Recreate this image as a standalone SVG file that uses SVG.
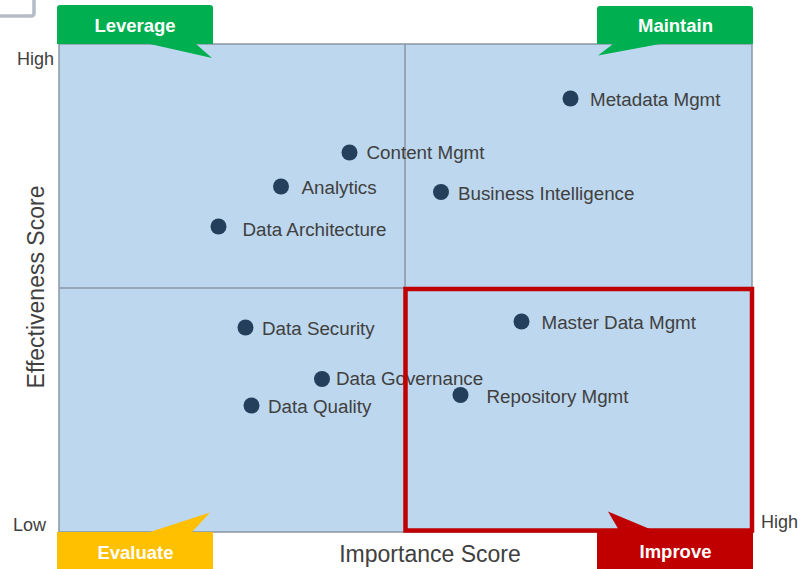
<svg xmlns="http://www.w3.org/2000/svg" width="800" height="569" viewBox="0 0 800 569">
<style>
.lbl{font-family:"Liberation Sans",Arial,sans-serif;font-size:18.8px;fill:#404040}
.ax{font-family:"Liberation Sans",Arial,sans-serif;font-size:18px;fill:#404040}
.title{font-family:"Liberation Sans",Arial,sans-serif;font-size:23px;fill:#404040}
.co{font-family:"Liberation Sans",Arial,sans-serif;font-size:18.5px;font-weight:bold;fill:#ffffff;text-anchor:middle}
.pt{fill:#243f5c}
.div{stroke:#8a96a3;stroke-width:1.5;fill:none}
</style>
<rect width="800" height="569" fill="#ffffff"/>
<path d="M0 16 H31 Q34 16 34 13 V0" fill="none" stroke="#b4bcc7" stroke-width="3.5"/>
<g id="plot">
<rect x="59" y="44" width="693" height="488" fill="#bdd7ee" stroke="#8a96a3" stroke-width="1.5"/>
<line class="div" x1="405" y1="44" x2="405" y2="532"/>
<line class="div" x1="59" y1="288" x2="752" y2="288"/>
</g>
<g id="axes">
<text class="ax" x="17" y="65">High</text>
<text class="ax" x="13" y="531">Low</text>
<text class="ax" x="761" y="528">High</text>
<text class="title" x="430" y="562" text-anchor="middle">Importance Score</text>
<text class="title" transform="translate(43.5,287) rotate(-90)" text-anchor="middle">Effectiveness Score</text>
</g>
<g id="n-metadata"><circle class="pt" cx="570.5" cy="98.5" r="8"/><text class="lbl" x="590" y="105.5">Metadata Mgmt</text></g>
<g id="n-content"><circle class="pt" cx="349.5" cy="152.5" r="8"/><text class="lbl" x="366.5" y="158.5">Content Mgmt</text></g>
<g id="n-analytics"><circle class="pt" cx="281" cy="186.5" r="8"/><text class="lbl" x="301.5" y="194">Analytics</text></g>
<g id="n-bi"><circle class="pt" cx="441" cy="192" r="8"/><text class="lbl" x="458" y="199.5">Business Intelligence</text></g>
<g id="n-arch"><circle class="pt" cx="218.5" cy="226.5" r="8"/><text class="lbl" x="242.5" y="236">Data Architecture</text></g>
<g id="n-security"><circle class="pt" cx="245.5" cy="327.5" r="8"/><text class="lbl" x="262" y="335">Data Security</text></g>
<g id="n-mdm"><circle class="pt" cx="521.5" cy="321.5" r="8"/><text class="lbl" x="541.5" y="329">Master Data Mgmt</text></g>
<g id="n-governance"><circle class="pt" cx="322" cy="379" r="8"/><text class="lbl" x="336" y="385">Data Governance</text></g>
<g id="n-quality"><circle class="pt" cx="251.5" cy="405.5" r="8"/><text class="lbl" x="268" y="413">Data Quality</text></g>
<g id="n-repo"><circle class="pt" cx="460.5" cy="395" r="8"/><text class="lbl" x="486.5" y="402.5">Repository Mgmt</text></g>
<g id="highlight">
<rect x="405.5" y="289" width="346.5" height="241.5" fill="none" stroke="#c00000" stroke-width="4.5"/>
</g>
<g id="c-leverage">
<path d="M57 44 V8 Q57 5 60 5 H210 Q213 5 213 8 V44 H196 L212 58 L150 44 Z" fill="#00b050"/>
<text class="co" x="135" y="31.5">Leverage</text>
</g>
<g id="c-maintain">
<path d="M597 44 V9 Q597 6 600 6 H750 Q753 6 753 9 V44 H660 L598 55.5 L613 44 Z" fill="#00b050"/>
<text class="co" x="675.5" y="31.5">Maintain</text>
</g>
<g id="c-evaluate">
<path d="M57 532 H150 L210 512.5 L192 532 H213 V569 H57 Z" fill="#ffc000"/>
<text class="co" x="135.5" y="558.5">Evaluate</text>
</g>
<g id="c-improve">
<path d="M597 532 H620 L608 511.5 L657 532 H753 V569 H597 Z" fill="#c00000"/>
<text class="co" x="675.5" y="558">Improve</text>
</g>
</svg>
